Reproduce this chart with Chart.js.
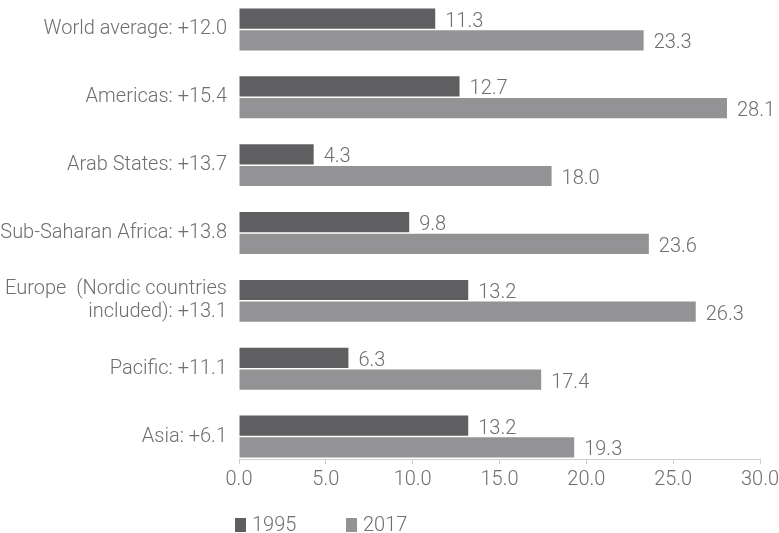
<!DOCTYPE html>
<html>
<head>
<meta charset="utf-8">
<script src="https://cdn.jsdelivr.net/npm/chart.js@4.4.1/dist/chart.umd.min.js"></script>
<style>
    html, body { margin: 0; padding: 0; background: #ffffff; }
    #wrap { width: 779px; height: 533px; }
</style>
</head>
<body>
<div id="wrap"><canvas id="chart"></canvas></div>
<script>
var categories = [
    "World average: +12.0",
    "Americas: +15.4",
    "Arab States: +13.7",
    "Sub-Saharan Africa: +13.8",
    ["Europe  (Nordic countries", "included): +13.1"],
    "Pacific: +11.1",
    "Asia: +6.1"
];
var seriesNames = ["1995", "2017"];
var values1995 = [11.3, 12.7, 4.3, 9.8, 13.2, 6.3, 13.2];
var values2017 = [23.3, 28.1, 18.0, 23.6, 26.3, 17.4, 19.3];
var xTicks = [0, 5, 10, 15, 20, 25, 30];

var textColor = "#6e6e6e";
var fontFamily = "Roboto, 'Liberation Sans', sans-serif";
var barColors = ["#5f5f61", "#939396"];

function toPoints(values) {
    return values.map(function (v, i) { return { x: v, y: i }; });
}

// value labels next to each bar, and the legend under the axis
var labelPlugin = {
    id: "labelPlugin",
    afterDraw: function (chart) {
        let ctx = chart.ctx;
        ctx.save();
        ctx.font = "300 20px " + fontFamily;
        ctx.fillStyle = textColor;
        ctx.textBaseline = "middle";
        ctx.textAlign = "left";
        chart.data.datasets.forEach(function (ds, d) {
            let meta = chart.getDatasetMeta(d);
            meta.data.forEach(function (bar, i) {
                ctx.fillText(ds.data[i].x.toFixed(1), bar.x + 10, bar.y + 3);
            });
        });

        let legendY = 525;
        let x = chart.chartArea.left - 4;
        chart.data.datasets.forEach(function (ds) {
            ctx.fillStyle = ds.backgroundColor;
            ctx.fillRect(x, legendY - 7, 11, 14);
            ctx.fillStyle = textColor;
            ctx.fillText(ds.label, x + 17, legendY + 1);
            x += 111;
        });
        ctx.restore();
    }
};

new Chart(document.getElementById("chart").getContext("2d"), {
    type: "bar",
    data: {
        datasets: [
            {
                label: seriesNames[0],
                data: toPoints(values1995),
                backgroundColor: barColors[0],
                categoryPercentage: 0.64,
                barPercentage: 0.93
            },
            {
                label: seriesNames[1],
                data: toPoints(values2017),
                backgroundColor: barColors[1],
                categoryPercentage: 0.64,
                barPercentage: 0.93
            }
        ]
    },
    options: {
        indexAxis: "y",
        responsive: true,
        maintainAspectRatio: false,
        animation: false,
        layout: {
            padding: { top: 0, left: 0, right: 19, bottom: 37 }
        },
        plugins: {
            legend: { display: false },
            tooltip: { enabled: false }
        },
        scales: {
            x: {
                type: "linear",
                min: 0,
                max: 30,
                afterBuildTicks: function (scale) {
                    scale.ticks = xTicks.map(function (v) { return { value: v }; });
                },
                afterFit: function (scale) {
                    scale.paddingLeft = 0;
                    scale.paddingRight = 0;
                },
                grid: {
                    drawOnChartArea: false,
                    drawTicks: true,
                    tickLength: 5,
                    color: "#cfcfcf"
                },
                border: { color: "#cfcfcf" },
                ticks: {
                    color: textColor,
                    padding: 4,
                    font: { family: fontFamily, size: 20, weight: 300 },
                    callback: function (value) { return Number(value).toFixed(1); }
                }
            },
            y: {
                type: "linear",
                reverse: true,
                offset: false,
                min: -0.434,
                max: 6.331,
                afterBuildTicks: function (scale) {
                    scale.ticks = categories.map(function (c, i) { return { value: i }; });
                },
                afterFit: function (scale) {
                    scale.width = 239;
                    scale.paddingTop = 0;
                    scale.paddingBottom = 0;
                },
                grid: { display: false, offset: false },
                border: { display: false },
                ticks: {
                    color: textColor,
                    padding: 4,
                    font: { family: fontFamily, size: 20, weight: 300, lineHeight: 1.15 },
                    callback: function (value) { return categories[value]; }
                }
            }
        }
    },
    plugins: [labelPlugin]
});
</script>
</body>
</html>
